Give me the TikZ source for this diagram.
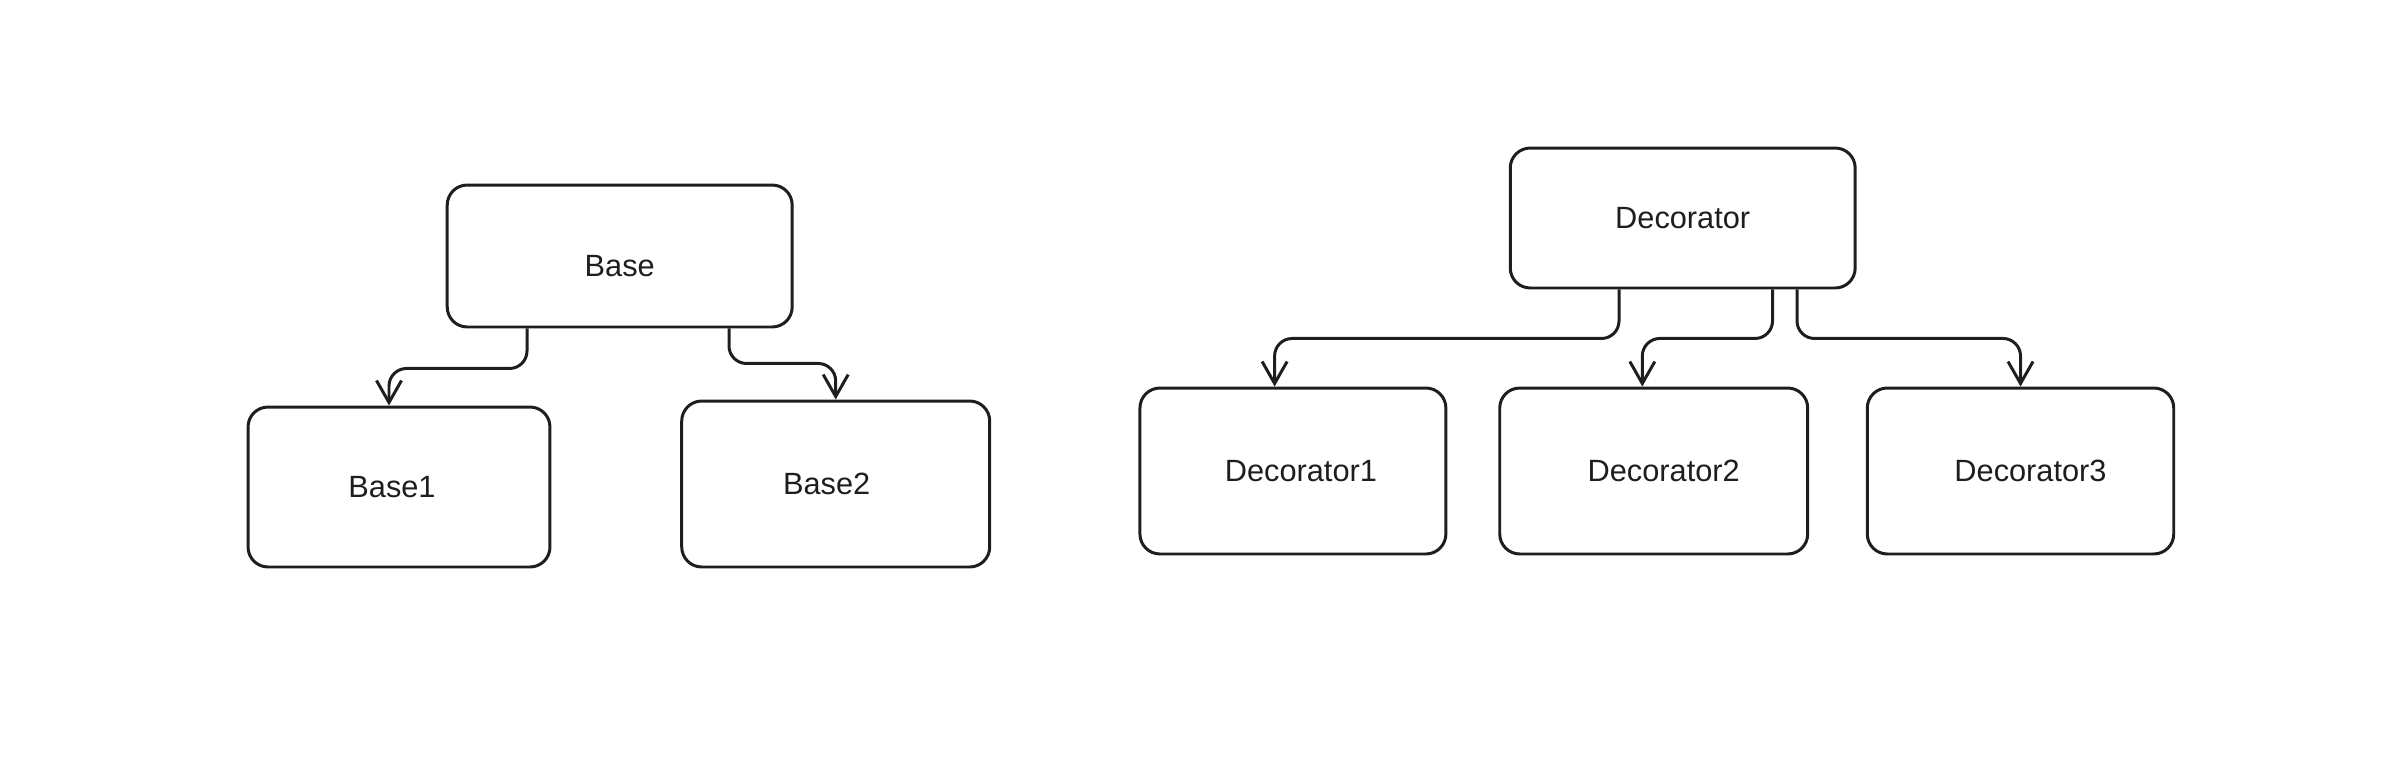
\documentclass[tikz,border=0pt]{standalone}
\usepackage{fontspec}
\setmainfont{Liberation Sans}
\usepackage{tikz}
\usetikzlibrary{calc}
\usetikzlibrary{arrows.meta}
\definecolor{ink}{HTML}{1E1E1E}
\tikzset{>={Straight Barb[length=4.4mm,width=5mm]}}
\tikzset{box/.style={draw=ink, line width=1.7pt, rounded corners=0.4cm, text=ink, font=\fontsize{17.5}{21}\selectfont}}
\tikzset{link/.style={->, draw=ink, line width=1.7pt, rounded corners=0.35cm}}

\begin{document}
\begin{tikzpicture}[x=0.02cm, y=-0.02cm]
\useasboundingbox (0,0) rectangle (2402,758);
% left tree
\node (base) at (619.7,256) [box, minimum width=6.9cm, minimum height=2.84cm, text height=0.8cm, text depth=0pt] {Base};
\node (base1) at (399,487) [box, minimum width=6.04cm, minimum height=3.2cm] {Base1\hspace*{0.28cm}};
\node (base2) at (835.7,484) [box, minimum width=6.16cm, minimum height=3.32cm] {Base2\hspace*{0.36cm}};
\draw[link] ([shift={(-92.7,0)}]base.south) -- ++(0,40) -| ([shift={(-10,0)}]base1.north);
\draw[link] ([shift={(109.3,0)}]base.south) -- ++(0,35) -| (base2.north);
% right tree
\node (dec) at (1682.7,218) [box, minimum width=6.9cm, minimum height=2.8cm] {Decorator};
\node (dec1) at (1292.9,471) [box, minimum width=6.12cm, minimum height=3.32cm] {\hspace*{0.32cm}Decorator1};
\node (dec2) at (1653.7,471) [box, minimum width=6.16cm, minimum height=3.32cm] {\hspace*{0.4cm}Decorator2};
\node (dec3) at (2020.5,471) [box, minimum width=6.13cm, minimum height=3.32cm] {\hspace*{0.4cm}Decorator3};
\draw[link] ([shift={(-63.7,0)}]dec.south) -- ++(0,49) -| ([shift={(-18.3,0)}]dec1.north);
\draw[link] ([shift={(89.8,0)}]dec.south) -- ++(0,49) -| ([shift={(-11.4,0)}]dec2.north);
\draw[link] ([shift={(114.3,0)}]dec.south) -- ++(0,49) -| (dec3.north);
\end{tikzpicture}
\end{document}
